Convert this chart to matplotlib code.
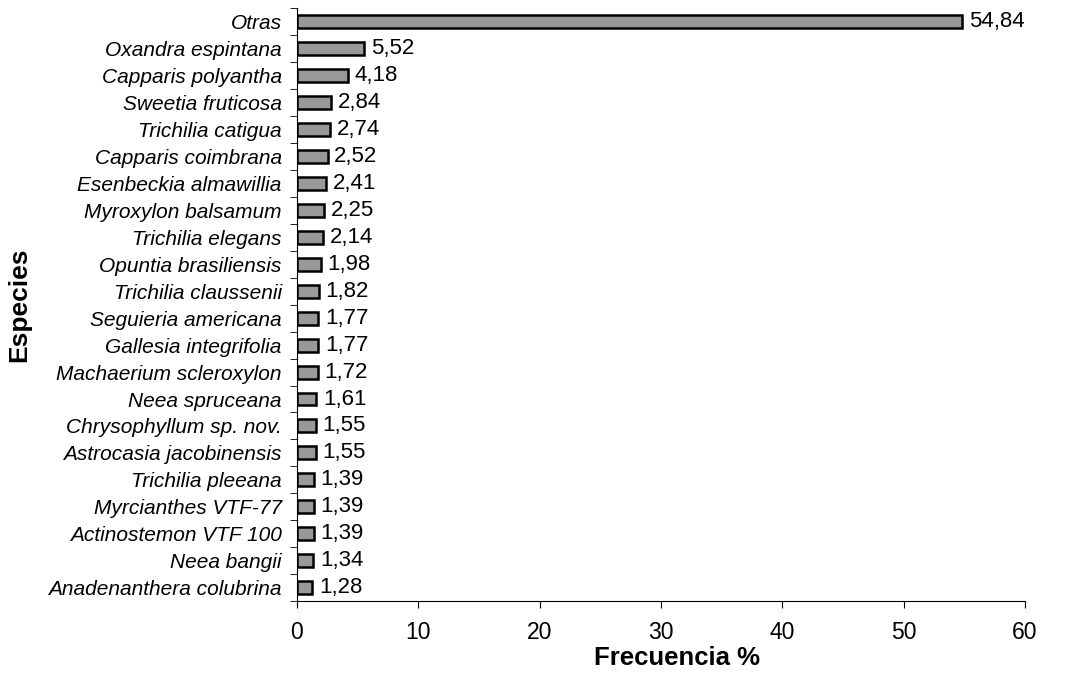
import numpy as np
import matplotlib.pyplot as plt
from matplotlib.ticker import FixedLocator

plt.rcParams['font.family'] = ['Liberation Sans', 'DejaVu Sans']

especies = [
    "Otras", "Oxandra espintana", "Capparis polyantha", "Sweetia fruticosa",
    "Trichilia catigua", "Capparis coimbrana", "Esenbeckia almawillia",
    "Myroxylon balsamum", "Trichilia elegans", "Opuntia brasiliensis",
    "Trichilia claussenii", "Seguieria americana", "Gallesia integrifolia",
    "Machaerium scleroxylon", "Neea spruceana", "Chrysophyllum sp. nov.",
    "Astrocasia jacobinensis", "Trichilia pleeana", "Myrcianthes VTF-77",
    "Actinostemon VTF 100", "Neea bangii", "Anadenanthera colubrina",
]
frecuencia = [
    54.84, 5.52, 4.18, 2.84, 2.74, 2.52, 2.41, 2.25, 2.14, 1.98, 1.82,
    1.77, 1.77, 1.72, 1.61, 1.55, 1.55, 1.39, 1.39, 1.39, 1.34, 1.28,
]

n = len(especies)
y = np.arange(n)[::-1]

fig = plt.figure(figsize=(10.72, 6.74), dpi=100)
ax = fig.add_axes([0.277, 0.108, 0.679, 0.880])

ax.barh(y, frecuencia, height=0.48, color="#999999", edgecolor="black", linewidth=1.8)

# value labels with decimal comma
for yi, v in zip(y, frecuencia):
    ax.text(v + 0.55, yi, f"{v:.2f}".replace(".", ","), va="center", ha="left", fontsize=16)

ax.set_xlim(0, 60)
ax.set_ylim(-0.5, n - 0.5)
ax.set_xticks(np.arange(0, 61, 10))
ax.tick_params(axis="x", labelsize=16.5, length=5, direction="out", pad=9)

# names on the bars, ticks between categories
ax.set_yticks(y)
ax.set_yticklabels(especies, fontsize=15, style="italic")
ax.yaxis.set_minor_locator(FixedLocator(np.arange(n + 1) - 0.5))
ax.tick_params(axis="y", which="major", length=0, pad=11)
ax.tick_params(axis="y", which="minor", length=5, direction="out")

for s in ("top", "right"):
    ax.spines[s].set_visible(False)

ax.set_xlabel("Frecuencia %", fontsize=18.5, fontweight="bold")
ax.xaxis.set_label_coords(0.522, -0.075)
ax.set_ylabel("Especies", fontsize=19, fontweight="bold", labelpad=12)

fig.savefig("out.png", dpi=100)
